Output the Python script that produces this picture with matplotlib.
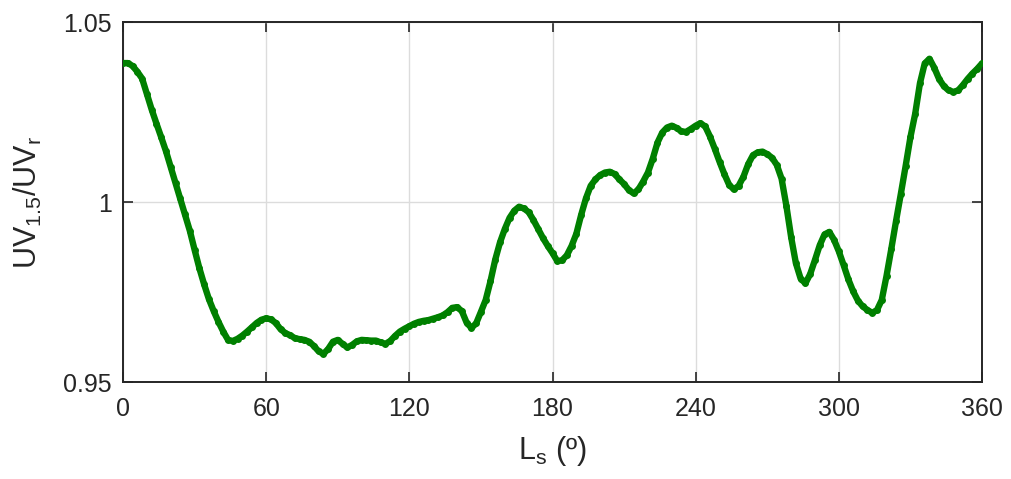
#!/usr/bin/env python3

import numpy as np
import matplotlib
matplotlib.use("Agg")
import matplotlib.pyplot as plt

# Solar longitude (deg), every 2 deg, and the UV ratio
ls_deg = np.arange(0, 361, 2)
uv_ratio = [
	1.0386, 1.0386, 1.0378, 1.0362, 1.0343, 1.0300, 1.0257, 1.0218, 1.0180, 1.0141,
	1.0097, 1.0052, 1.0010, 0.9966, 0.9920, 0.9867, 0.9816, 0.9771, 0.9730, 0.9697,
	0.9667, 0.9640, 0.9617, 0.9614, 0.9620, 0.9629, 0.9640, 0.9652, 0.9664, 0.9673,
	0.9677, 0.9674, 0.9664, 0.9647, 0.9636, 0.9630, 0.9622, 0.9619, 0.9617, 0.9612,
	0.9600, 0.9585, 0.9578, 0.9592, 0.9612, 0.9617, 0.9606, 0.9596, 0.9603, 0.9613,
	0.9617, 0.9616, 0.9615, 0.9615, 0.9610, 0.9606, 0.9614, 0.9628, 0.9640, 0.9648,
	0.9655, 0.9662, 0.9667, 0.9670, 0.9672, 0.9676, 0.9680, 0.9685, 0.9694, 0.9706,
	0.9708, 0.9697, 0.9665, 0.9650, 0.9663, 0.9695, 0.9728, 0.9780, 0.9840, 0.9888,
	0.9925, 0.9956, 0.9976, 0.9987, 0.9982, 0.9972, 0.9950, 0.9925, 0.9900, 0.9878,
	0.9858, 0.9836, 0.9838, 0.9852, 0.9878, 0.9912, 0.9964, 1.0010, 1.0045, 1.0063,
	1.0075, 1.0082, 1.0084, 1.0078, 1.0063, 1.0050, 1.0033, 1.0024, 1.0035, 1.0057,
	1.0082, 1.0120, 1.0165, 1.0193, 1.0207, 1.0212, 1.0206, 1.0196, 1.0195, 1.0203,
	1.0212, 1.0219, 1.0210, 1.0182, 1.0148, 1.0112, 1.0078, 1.0048, 1.0035, 1.0045,
	1.0070, 1.0105, 1.0130, 1.0138, 1.0140, 1.0133, 1.0123, 1.0103, 1.0065, 0.9990,
	0.9903, 0.9830, 0.9787, 0.9774, 0.9800, 0.9839, 0.9880, 0.9910, 0.9917, 0.9895,
	0.9863, 0.9825, 0.9785, 0.9752, 0.9726, 0.9710, 0.9700, 0.9692, 0.9700, 0.9728,
	0.9795, 0.9870, 0.9948, 1.0023, 1.0100, 1.0180, 1.0245, 1.0330, 1.0385, 1.0398,
	1.0373, 1.0342, 1.0322, 1.0310, 1.0306, 1.0310, 1.0325, 1.0342, 1.0357, 1.0370,
	1.0385,
]

x_ticks = [0, 60, 120, 180, 240, 300, 360]
y_ticks = [0.95, 1.0, 1.05]
y_ticklabels = ["0.95", "1", "1.05"]

plt.rcParams['font.family'] = ['Liberation Sans', 'DejaVu Sans']
plt.rcParams['mathtext.fontset'] = 'custom'
plt.rcParams['mathtext.rm'] = 'Liberation Sans'
plt.rcParams['mathtext.it'] = 'Liberation Sans'

axis_col = "#262626"
green = "#008000"

fig = plt.figure(figsize=(10.11, 4.79), dpi=100)
ax = fig.add_axes([0.1217, 0.2025, 0.9713 - 0.1217, 0.954 - 0.2025])

# thick line under the dots so the trace looks continuous like the original
ax.plot(ls_deg, uv_ratio, '-', color=green, linewidth=4.6, solid_capstyle='round', zorder=3)
ax.plot(ls_deg, uv_ratio, 'o', color=green, markersize=5, markeredgewidth=0, zorder=4)

ax.set_xlim(0, 360)
ax.set_ylim(0.95, 1.05)
ax.set_xticks(x_ticks)
ax.set_yticks(y_ticks)
ax.set_yticklabels(y_ticklabels)

ax.grid(True, color="#dcdcdc", linewidth=1.0)
ax.set_axisbelow(True)
for side in ax.spines.values():
	side.set_color(axis_col)
	side.set_linewidth(1.4)
ax.tick_params(direction='in', length=7, width=1.2, color=axis_col,
	labelcolor=axis_col, labelsize=18, top=True, right=True)
ax.tick_params(axis='x', pad=11)
ax.tick_params(axis='y', pad=8)

ax.set_xlabel(r"$\mathregular{L_s}$ (º)", fontsize=22, color=axis_col, labelpad=9)
ax.set_ylabel(r"$\mathregular{UV_{1.5}/UV_r}$", fontsize=22, color=axis_col, labelpad=14)

fig.savefig("out.png", dpi=100)
